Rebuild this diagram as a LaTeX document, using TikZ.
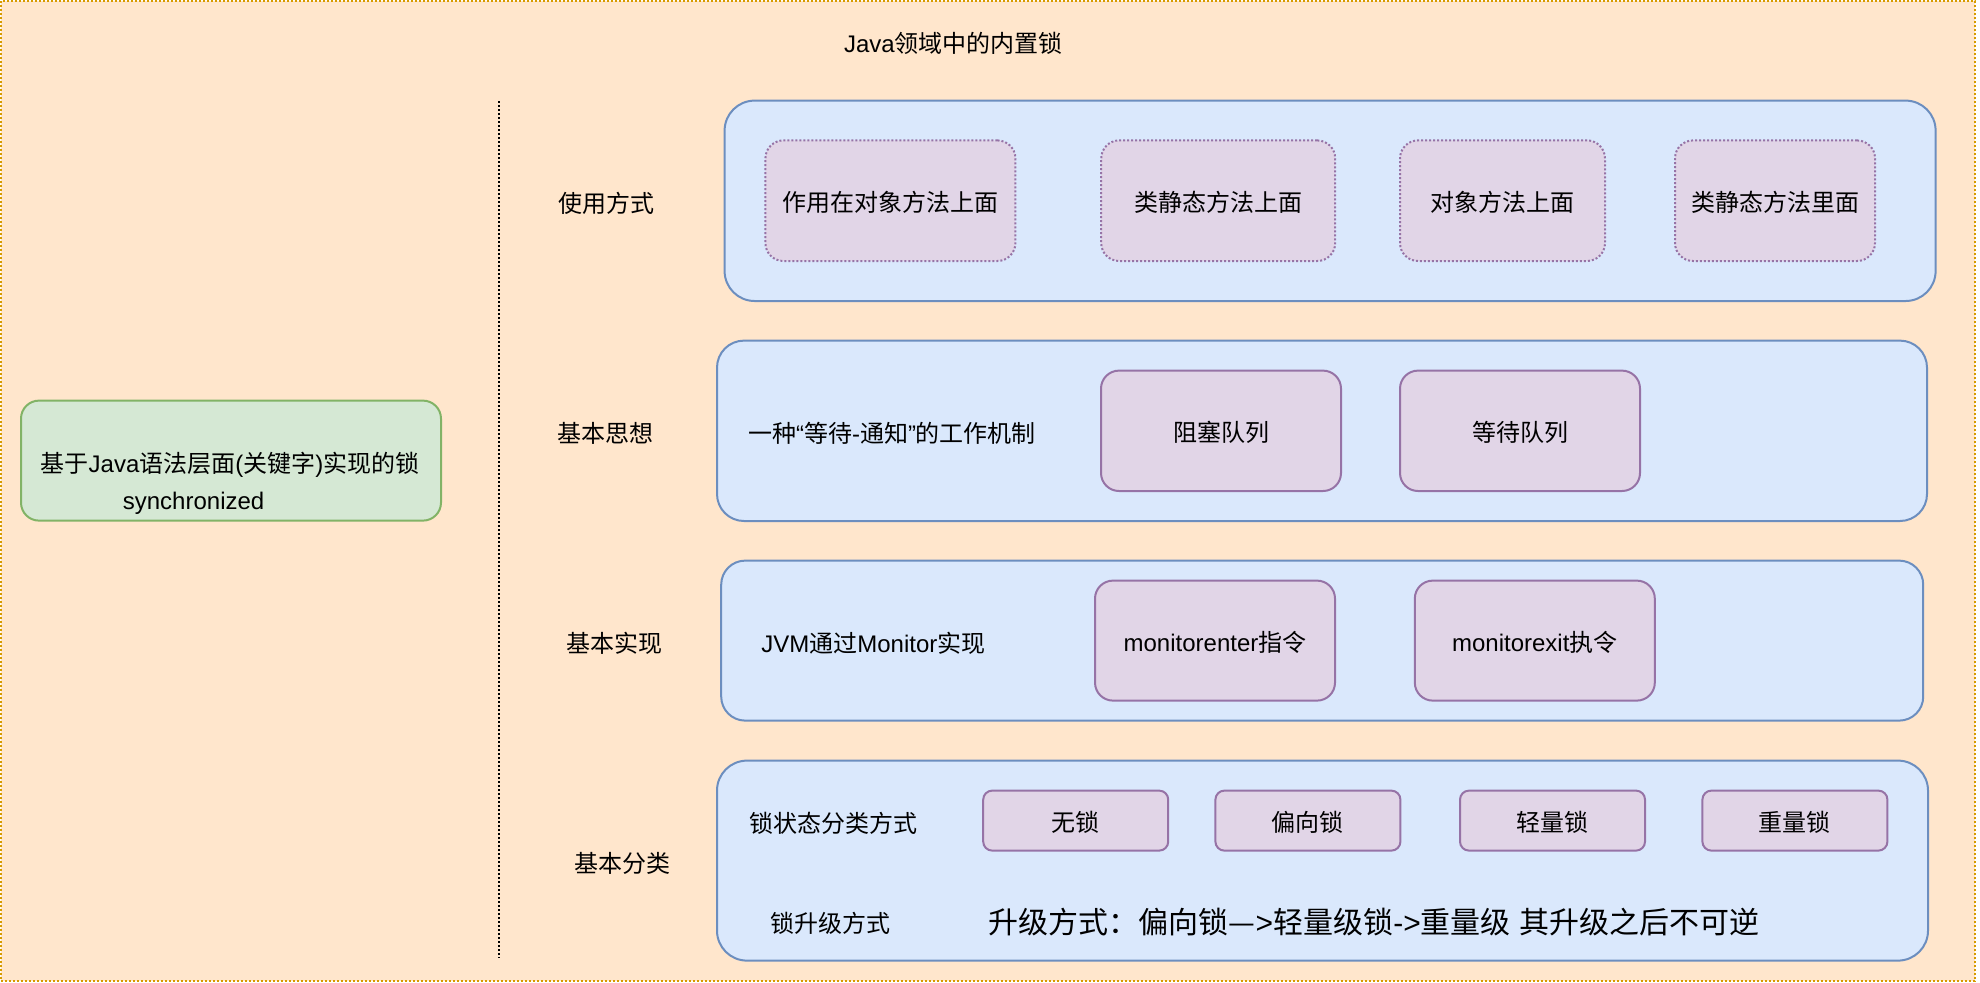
\documentclass[tikz,border=0pt]{standalone}
\usepackage{fontspec}
\setmainfont{Noto Sans CJK SC}
\newfontfamily\lat{Liberation Sans}
\definecolor{bgfill}{HTML}{FFE6CC}
\definecolor{bgline}{HTML}{D79B00}
\definecolor{rowfill}{HTML}{DAE8FC}
\definecolor{rowline}{HTML}{6C8EBF}
\definecolor{subfill}{HTML}{E1D5E7}
\definecolor{subline}{HTML}{9673A6}
\definecolor{grfill}{HTML}{D5E8D4}
\definecolor{grline}{HTML}{82B366}
\tikzset{
  cjkt/.style={text height=11.1pt, text depth=0pt},
  box/.style={inner sep=0pt, outer sep=0pt, line width=1pt, anchor=north west,
    font=\fontsize{12}{14}\selectfont, cjkt},
  rowbox/.style={box, draw=rowline, fill=rowfill},
  subbox/.style={box, draw=subline, fill=subfill, rounded corners=9pt},
  dotbox/.style={subbox, dash pattern=on 1pt off 1pt},
  smallbox/.style={box, draw=subline, fill=subfill, rounded corners=4.5pt,
    minimum width=92.5pt, minimum height=30pt},
  plainlbl/.style={inner sep=0pt, font=\fontsize{12}{14}\selectfont},
  lbl/.style={plainlbl, cjkt},
  biglbl/.style={inner sep=0pt, font=\fontsize{15}{18}\selectfont},
}
\begin{document}
\begin{tikzpicture}[x=1pt,y=-1pt]
\useasboundingbox (0,0) rectangle (990,491);
\fill[white] (0,0) rectangle (990,491);
\draw[fill=bgfill, draw=bgline, line width=1pt, dash pattern=on 1pt off 1pt] (0.5,0.5) rectangle (987.5,490.5);

\node[lbl] (title) at (476.7,20.8) {{\lat Java}领域中的内置锁};

% left green box
\node[box, draw=grline, fill=grfill, rounded corners=9pt, minimum width=210pt, minimum height=60pt] (syn) at (10.5,200.3) {};
\node[lbl] (synA) at (115,230.8) {基于{\lat Java}语法层面{\lat (}关键字{\lat )}实现的锁};
\node[plainlbl] (synB) at (96.8,251.6) {\lat synchronized};

% divider
\coordinate (divtop) at (249.5,50.5);
\coordinate (divbot) at (249.5,479);
\draw[line width=1pt, dash pattern=on 1pt off 1pt] (divtop) -- (divbot);

% row labels
\node[lbl] (l1) at (303,100.5) {使用方式};
\node[lbl] (l2) at (302.5,215.5) {基本思想};
\node[lbl] (l3) at (307,320.8) {基本实现};
\node[lbl] (l4) at (311.4,430.6) {基本分类};

% row 1
\node[rowbox, rounded corners=15pt, minimum width=605.5pt, minimum height=100.2pt] (r1) at (362.3,50.3) {};
\node[dotbox, minimum width=125pt, minimum height=60.3pt] (r1a) at (382.7,70.2) {作用在对象方法上面};
\node[dotbox, minimum width=117pt, minimum height=60.3pt] (r1b) at (550.6,70.2) {类静态方法上面};
\node[dotbox, minimum width=102.5pt, minimum height=60.3pt] (r1c) at (700,70.2) {对象方法上面};
\node[dotbox, minimum width=100pt, minimum height=60.3pt] (r1d) at (837.5,70.2) {类静态方法里面};

% row 2
\node[rowbox, rounded corners=13.5pt, minimum width=605pt, minimum height=90.2pt] (r2) at (358.5,170.3) {};
\node[lbl] (r2t) at (446,215.8) {一种{\lat “}等待{\lat -}通知{\lat ”}的工作机制};
\node[subbox, minimum width=120pt, minimum height=60.2pt] (r2a) at (550.5,185.3) {阻塞队列};
\node[subbox, minimum width=120pt, minimum height=60.2pt] (r2b) at (700,185.3) {等待队列};

% row 3
\node[rowbox, rounded corners=12pt, minimum width=601pt, minimum height=80pt] (r3) at (360.6,280.3) {};
\node[lbl] (r3t) at (436.7,320.8) {{\lat JVM}通过{\lat Monitor}实现};
\node[subbox, minimum width=120pt, minimum height=60pt] (r3a) at (547.5,290.3) {{\lat monitorenter}指令};
\node[subbox, minimum width=120pt, minimum height=60pt] (r3b) at (707.4,290.3) {{\lat monitorexit}执令};

% row 4
\node[rowbox, rounded corners=15pt, minimum width=605.5pt, minimum height=100pt] (r4) at (358.5,380.3) {};
\node[lbl] (r4t) at (416.8,410.8) {锁状态分类方式};
\node[smallbox] (s1) at (491.6,395.3) {无锁};
\node[smallbox] (s2) at (607.7,395.3) {偏向锁};
\node[smallbox] (s3) at (730,395.3) {轻量锁};
\node[smallbox] (s4) at (851.2,395.3) {重量锁};
\node[lbl] (r4u) at (415.2,460.8) {锁升级方式};
\node[biglbl] (r4big) at (687,461) {升级方式：偏向锁—{\lat >}轻量级锁{\lat ->}重量级{\lat\ }其升级之后不可逆};
\end{tikzpicture}
\end{document}
